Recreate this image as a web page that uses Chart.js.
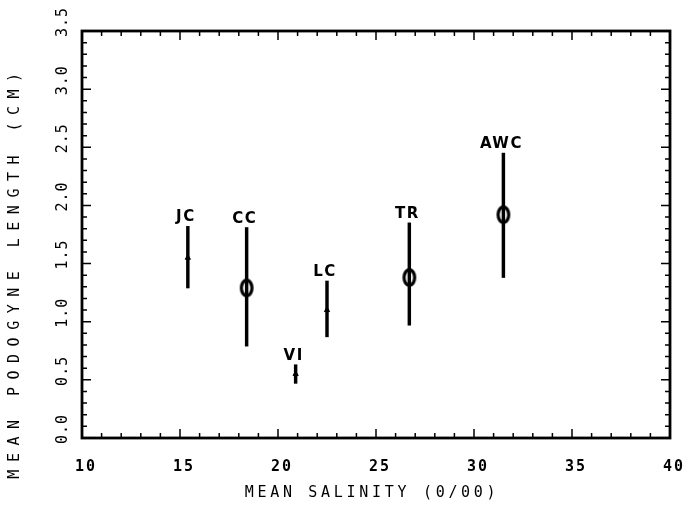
<!DOCTYPE html>
<html>
<head>
<meta charset="utf-8">
<script src="https://cdn.jsdelivr.net/npm/chart.js@4.4.0/dist/chart.umd.min.js"></script>
<style>
html,body{margin:0;padding:0;background:#fff;}
#wrap{width:693px;height:510px;}
</style>
</head>
<body>
<div id="wrap"><canvas id="c" width="693" height="510"></canvas></div>
<script>
// ---- data ----
const sites       = ['JC', 'CC', 'VI', 'LC', 'TR', 'AWC'];
const salinity    = [15.4, 18.4, 20.9, 22.5, 26.7, 31.5];
const meanLength  = [1.55, 1.29, 0.55, 1.10, 1.38, 1.92];
const lowLength   = [1.29, 0.79, 0.47, 0.87, 0.97, 1.38];
const highLength  = [1.82, 1.81, 0.63, 1.35, 1.85, 2.45];
const largeMarker = [false, true, false, false, true, true];
const xTickLabels = ['10', '15', '20', '25', '30', '35', '40'];
const yTickLabels = ['0.0', '0.5', '1.0', '1.5', '2.0', '2.5', '3.0', '3.5'];
const xTitle = 'MEAN SALINITY (0/00)';
const yTitle = 'MEAN PODOGYNE LENGTH (CM)';

// ellipse marker image
function ellipseMarker() {
  const cv = document.createElement('canvas');
  cv.width = 18; cv.height = 23;
  const g = cv.getContext('2d');
  g.lineWidth = 3.2;
  g.strokeStyle = '#000';
  g.beginPath();
  g.ellipse(9, 11.5, 5.3, 7.8, 0, 0, Math.PI * 2);
  g.stroke();
  return cv;
}
const bigMark = ellipseMarker();

const barData = salinity.map((x, i) => ({x: x, y: [lowLength[i], highLength[i]]}));
const ptData = salinity.map((x, i) => ({x: x, y: meanLength[i]}));

const overlay = {
  id: 'overlay',
  afterDraw(chart) {
    const ctx = chart.ctx;
    const xs = chart.scales.x, ys = chart.scales.y;
    const a = chart.chartArea;
    ctx.save();
    ctx.strokeStyle = '#000';
    ctx.fillStyle = '#000';
    // inward ticks
    ctx.lineWidth = 1.5;
    for (let v = 10; v <= 40; v += 1) {
      const px = xs.getPixelForValue(v);
      const L = (v % 5 === 0) ? 9 : 5;
      ctx.beginPath();
      ctx.moveTo(px, a.bottom); ctx.lineTo(px, a.bottom - L);
      ctx.moveTo(px, a.top); ctx.lineTo(px, a.top + L);
      ctx.stroke();
    }
    for (let k = 0; k <= 35; k++) {
      const v = k / 10;
      const py = ys.getPixelForValue(v);
      const L = (k % 5 === 0) ? 9 : 5;
      ctx.beginPath();
      ctx.moveTo(a.left, py); ctx.lineTo(a.left + L, py);
      ctx.moveTo(a.right, py); ctx.lineTo(a.right - L, py);
      ctx.stroke();
    }
    // frame
    ctx.lineWidth = 2.8;
    ctx.strokeRect(a.left, a.top, a.right - a.left, a.bottom - a.top);

    // x tick labels
    ctx.font = 'bold 15px "DejaVu Sans Mono"';
    ctx.letterSpacing = '2px';
    ctx.textAlign = 'center';
    ctx.textBaseline = 'middle';
    xTickLabels.forEach(t => {
      const px = xs.getPixelForValue(parseFloat(t)) + 4;
      ctx.fillText(t, px, 467);
    });
    // y tick labels (rotated)
    ctx.font = '15px "DejaVu Sans Mono"';
    ctx.letterSpacing = '1px';
    yTickLabels.forEach(t => {
      const py = ys.getPixelForValue(parseFloat(t)) - 9;
      ctx.save();
      ctx.translate(63, py);
      ctx.rotate(-Math.PI / 2);
      ctx.fillText(t, 0, 0);
      ctx.restore();
    });
    // axis titles
    ctx.font = '15px "DejaVu Sans Mono"';
    ctx.letterSpacing = '3.7px';
    ctx.fillText(xTitle, 372, 493);
    ctx.letterSpacing = '7.5px';
    ctx.save();
    ctx.translate(15, 272);
    ctx.rotate(-Math.PI / 2);
    ctx.fillText(yTitle, 0, 0);
    ctx.restore();
    // site labels
    ctx.font = 'bold 15px "DejaVu Sans"';
    ctx.letterSpacing = '1.5px';
    ctx.textBaseline = 'alphabetic';
    sites.forEach((s, i) => {
      const px = xs.getPixelForValue(salinity[i]);
      const py = ys.getPixelForValue(highLength[i]);
      ctx.fillText(s, px - 2, py - 5);
    });
    ctx.restore();
  }
};

new Chart(document.getElementById('c'), {
  data: {
    datasets: [
      {
        type: 'bar',
        data: barData,
        backgroundColor: '#000',
        borderWidth: 0,
        barThickness: 2.8,
        grouped: false,
        order: 2
      },
      {
        type: 'scatter',
        data: ptData,
        pointStyle: ctx => largeMarker[ctx.dataIndex] ? bigMark : 'triangle',
        pointRadius: ctx => largeMarker[ctx.dataIndex] ? 9 : 3,
        backgroundColor: '#000',
        borderColor: '#000',
        borderWidth: 1,
        order: 1
      }
    ]
  },
  options: {
    responsive: false,
    animation: false,
    events: [],
    layout: {padding: {left: 0, right: 23, top: 31, bottom: 0}},
    plugins: {legend: {display: false}, tooltip: {enabled: false}},
    scales: {
      x: {
        type: 'linear', min: 10, max: 40, offset: false,
        grid: {display: false, offset: false}, border: {display: false},
        ticks: {display: false, stepSize: 5},
        afterFit: s => { s.height = 72; }
      },
      y: {
        type: 'linear', min: 0, max: 3.5,
        grid: {display: false}, border: {display: false},
        ticks: {display: false, stepSize: 0.5},
        afterFit: s => { s.width = 82; }
      }
    }
  },
  plugins: [overlay]
});
</script>
</body>
</html>
